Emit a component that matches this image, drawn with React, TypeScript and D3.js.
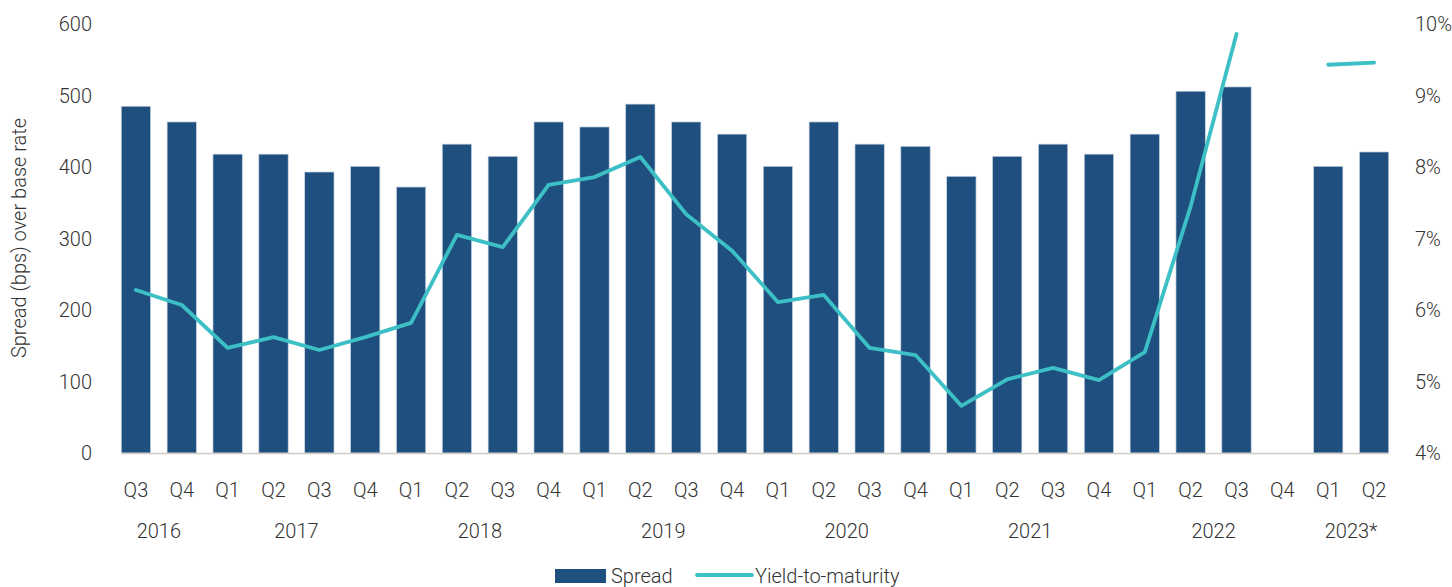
import { useEffect, useRef } from "react";
import * as d3 from "d3";

// ── Data ─────────────────────────────────────────────────────────────────────
const QUARTERS = [
  "Q3", "Q4",
  "Q1", "Q2", "Q3", "Q4",
  "Q1", "Q2", "Q3", "Q4",
  "Q1", "Q2", "Q3", "Q4",
  "Q1", "Q2", "Q3", "Q4",
  "Q1", "Q2", "Q3", "Q4",
  "Q1", "Q2", "Q3", "Q4",
  "Q1", "Q2",
];
const YEARS = ["2016", "2017", "2018", "2019", "2020", "2021", "2022", "2023*"];
const YEAR_COUNTS = [2, 4, 4, 4, 4, 4, 4, 2];

const SPREAD: (number | null)[] = [
  485, 463,
  418, 418, 393, 401,
  372, 432, 415, 463,
  456, 488, 463, 446,
  401, 463, 432, 429,
  387, 415, 432, 418,
  446, 506, 512, null,
  401, 421,
];
const YTM: (number | null)[] = [
  6.28, 6.07,
  5.47, 5.62, 5.44, 5.62,
  5.82, 7.05, 6.88, 7.75,
  7.86, 8.14, 7.34, 6.83,
  6.11, 6.21, 5.47, 5.37,
  4.66, 5.03, 5.19, 5.02,
  5.41, 7.45, 9.86, null,
  9.43, 9.46,
];
const LEFT_TICKS = [0, 100, 200, 300, 400, 500, 600];
const RIGHT_TICKS = [4, 5, 6, 7, 8, 9, 10];

// ── Layout ───────────────────────────────────────────────────────────────────
const W = 1452;
const H = 587;
const X0 = 113, X1 = 1397;
const Y0 = 453, Y1 = 24;

const BAR = "#1f4f7e";
const LINE = "#3dbfc6";
const TXT = "#333333";
const FONT = "Roboto, 'Noto Sans', sans-serif";

export default function App() {
  const svgRef = useRef<SVGSVGElement | null>(null);

  useEffect(() => {
    if (!svgRef.current) return;
    const svg = d3.select(svgRef.current);
    svg.selectAll("*").remove();

    const idx = d3.range(QUARTERS.length);
    const x = d3.scaleBand<number>().domain(idx).range([X0, X1])
      .paddingInner(0.36).paddingOuter(0.18);
    const yL = d3.scaleLinear().domain([0, 600]).range([Y0, Y1]);
    const yR = d3.scaleLinear().domain([4, 10]).range([Y0, Y1]);
    const cx = (i: number) => (x(i) ?? 0) + x.bandwidth() / 2;

    const text = (sel: any) => sel
      .attr("font-family", FONT)
      .attr("font-size", 20)
      .attr("font-weight", 300)
      .attr("fill", TXT);

    // Bars
    svg.append("g").selectAll("rect")
      .data(idx.filter(i => SPREAD[i] != null))
      .join("rect")
      .attr("x", i => x(i) ?? 0)
      .attr("y", i => yL(SPREAD[i] as number))
      .attr("width", x.bandwidth())
      .attr("height", i => yL(0) - yL(SPREAD[i] as number))
      .attr("fill", BAR)
      .attr("stroke", "#c9d6e4")
      .attr("stroke-width", 0.7);

    // Baseline
    svg.append("line")
      .attr("x1", x(0) ?? 0).attr("x2", (x(idx.length - 1) ?? 0) + x.bandwidth())
      .attr("y1", Y0 + 0.5).attr("y2", Y0 + 0.5)
      .attr("stroke", "#d0cbc5").attr("stroke-width", 1.6);

    // Yield line (gap where there is no data)
    const line = d3.line<number>()
      .defined(i => YTM[i] != null)
      .x(i => cx(i))
      .y(i => yR(YTM[i] as number));
    svg.append("path")
      .datum(idx)
      .attr("d", line)
      .attr("fill", "none")
      .attr("stroke", LINE)
      .attr("stroke-width", 3.8)
      .attr("stroke-linecap", "round")
      .attr("stroke-linejoin", "round");

    // Left axis labels
    svg.append("g").selectAll("text")
      .data(LEFT_TICKS).join("text")
      .call(text)
      .attr("x", 92).attr("y", d => yL(d)).attr("dy", "0.35em")
      .attr("text-anchor", "end")
      .text(d => d);

    // Right axis labels
    svg.append("g").selectAll("text")
      .data(RIGHT_TICKS).join("text")
      .call(text)
      .attr("x", 1415).attr("y", d => yR(d)).attr("dy", "0.35em")
      .attr("text-anchor", "start")
      .text(d => `${d}%`);

    // Left axis title
    svg.append("text")
      .call(text)
      .attr("transform", `translate(26,238) rotate(-90)`)
      .attr("text-anchor", "middle")
      .text("Spread (bps) over base rate");

    // Quarter labels
    svg.append("g").selectAll("text")
      .data(idx).join("text")
      .call(text)
      .attr("x", i => cx(i)).attr("y", 490).attr("dy", "0.35em")
      .attr("text-anchor", "middle")
      .text(i => QUARTERS[i]);

    // Year labels, centred over their quarters
    let start = 0;
    const yearPos = YEARS.map((yr, k) => {
      const a = start, b = start + YEAR_COUNTS[k] - 1;
      start += YEAR_COUNTS[k];
      return { yr, mid: (cx(a) + cx(b)) / 2 };
    });
    svg.append("g").selectAll("text")
      .data(yearPos).join("text")
      .call(text)
      .attr("x", d => d.mid).attr("y", 531).attr("dy", "0.35em")
      .attr("text-anchor", "middle")
      .text(d => d.yr);

    // Legend
    const lg = svg.append("g");
    lg.append("rect")
      .attr("x", 555).attr("y", 569).attr("width", 51).attr("height", 14)
      .attr("fill", BAR);
    lg.append("text").call(text)
      .attr("x", 611).attr("y", 576).attr("dy", "0.35em")
      .text("Spread");
    lg.append("line")
      .attr("x1", 697).attr("x2", 752).attr("y1", 575).attr("y2", 575)
      .attr("stroke", LINE).attr("stroke-width", 3.8)
      .attr("stroke-linecap", "round");
    lg.append("text").call(text)
      .attr("x", 755).attr("y", 576).attr("dy", "0.35em")
      .text("Yield-to-maturity");
  }, []);

  return (
    <svg
      ref={svgRef}
      width={W}
      height={H}
      viewBox={`0 0 ${W} ${H}`}
      style={{ position: "fixed", left: 0, top: 0, display: "block", background: "#fff" }}
    />
  );
}
